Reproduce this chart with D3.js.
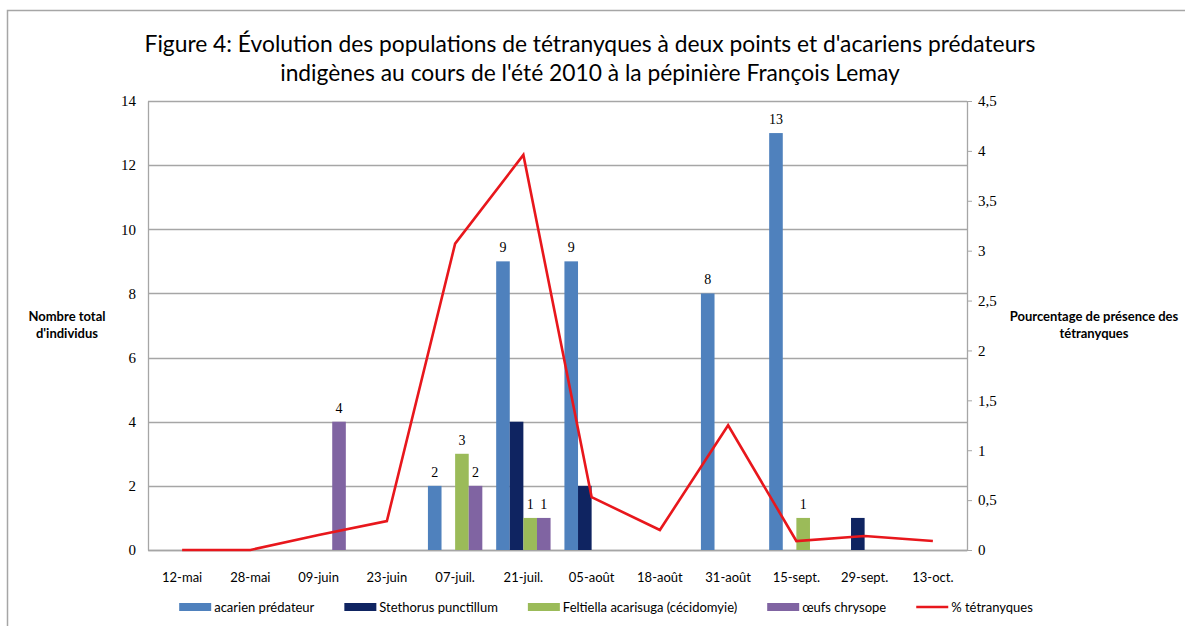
<!DOCTYPE html>
<html>
<head>
<meta charset="utf-8">
<script src="https://cdn.jsdelivr.net/npm/d3@7"></script>
<style>
  body { margin: 0; background: #fff; }
  svg { display: block; }
  .tick-num { font-family: "Liberation Serif", "DejaVu Serif", serif; font-size: 15px; fill: #000; }
  .cat { font-family: "Lato", sans-serif; font-size: 13px; fill: #000; }
  .lbl { font-family: "Liberation Serif", "DejaVu Serif", serif; font-size: 14px; fill: #000; }
  .ttl { font-family: "Lato", "Open Sans", sans-serif; font-size: 22.8px; fill: #000; }
  .axt { font-family: "Lato", sans-serif; font-size: 13px; font-weight: bold; fill: #000; }
  .leg { font-family: "Lato", sans-serif; font-size: 13px; fill: #000; }
</style>
</head>
<body>
<script>
// categories and values
var categories = ["12-mai", "28-mai", "09-juin", "23-juin", "07-juil.", "21-juil.", "05-août", "18-août", "31-août", "15-sept.", "29-sept.", "13-oct."];
var acarien    = [0, 0, 0, 0, 2, 9, 9, 0, 8, 13, 0, 0];
var stethorus  = [0, 0, 0, 0, 0, 4, 2, 0, 0, 0, 1, 0];
var feltiella  = [0, 0, 0, 0, 3, 1, 0, 0, 0, 1, 0, 0];
var chrysope   = [0, 0, 4, 0, 2, 1, 0, 0, 0, 0, 0, 0];
var tetranyques = [0, 0, 0.15, 0.29, 3.07, 3.96, 0.53, 0.2, 1.25, 0.09, 0.14, 0.09];
var leftTicks  = [0, 2, 4, 6, 8, 10, 12, 14];
var rightTicks = [0, 0.5, 1, 1.5, 2, 2.5, 3, 3.5, 4, 4.5];

var barSeries = [
  {name: "acarien prédateur", values: acarien, color: "#4f81bd", labels: true},
  {name: "Stethorus punctillum", values: stethorus, color: "#0f2461", labels: false},
  {name: "Feltiella acarisuga (cécidomyie)", values: feltiella, color: "#9bbb59", labels: true},
  {name: "œufs chrysope", values: chrysope, color: "#8064a2", labels: true}
];

var W = 1185, H = 626;
var margin = {left: 148, right: 218, top: 101, bottom: 76};
var width = W - margin.left - margin.right,
    height = H - margin.top - margin.bottom;

var svg = d3.select("body").append("svg")
    .attr("width", W)
    .attr("height", H);

// outer chart border (only top and left are inside the picture)
svg.append("rect")
    .attr("x", 7.5).attr("y", 10.5)
    .attr("width", 1400).attr("height", 1000)
    .attr("fill", "none")
    .attr("stroke", "#a6a6a6")
    .attr("stroke-width", 1.5);

var frLocale = d3.formatLocale({decimal: ",", thousands: " ", grouping: [3], currency: ["", " €"]});
var fmtRight = frLocale.format("~g");

// title
var title = svg.append("text").attr("class", "ttl").attr("text-anchor", "middle");
title.append("tspan").attr("x", 590).attr("y", 52)
    .text("Figure 4: Évolution des populations de tétranyques à deux points et d'acariens prédateurs");
title.append("tspan").attr("x", 590).attr("y", 81)
    .text("indigènes au cours de l'été 2010 à la pépinière François Lemay");

var g = svg.append("g").attr("transform", "translate(" + margin.left + "," + margin.top + ")");

// scales
var x0 = d3.scaleBand().domain(categories).range([0, width]).padding(0);
var groupW = 54.4;
var x1 = d3.scaleBand().domain(barSeries.map(function(s) { return s.name; }))
    .range([(x0.bandwidth() - groupW) / 2, (x0.bandwidth() + groupW) / 2]);
var yL = d3.scaleLinear().domain([0, 14]).range([height, 0]);
var yR = d3.scaleLinear().domain([0, 4.5]).range([height, 0]);

// gridlines
g.append("g").selectAll("line")
    .data(leftTicks)
    .enter().append("line")
    .attr("x1", 0).attr("x2", width)
    .attr("y1", function(d) { return Math.round(yL(d)) + 0.5; })
    .attr("y2", function(d) { return Math.round(yL(d)) + 0.5; })
    .attr("stroke", "#a6a6a6")
    .attr("stroke-width", 1.3);

// left axis
var yAxisL = d3.axisLeft(yL).tickValues(leftTicks).tickSize(0).tickPadding(12);
var gL = g.append("g").call(yAxisL);
gL.select(".domain").attr("stroke", "#a6a6a6").attr("stroke-width", 1.3);
gL.selectAll("text").attr("class", "tick-num").attr("font-family", null).attr("font-size", null);

// right axis
var yAxisR = d3.axisRight(yR).tickValues(rightTicks).tickSize(5).tickSizeOuter(0).tickPadding(6).tickFormat(fmtRight);
var gR = g.append("g").attr("transform", "translate(" + width + ",0)").call(yAxisR);
gR.select(".domain").attr("stroke", "#a6a6a6").attr("stroke-width", 1.3);
gR.selectAll("line").attr("stroke", "#a6a6a6");
gR.selectAll("text").attr("class", "tick-num").attr("font-family", null).attr("font-size", null);

// x axis labels
var xAxis = d3.axisBottom(x0).tickSize(0).tickPadding(23);
var gX = g.append("g").attr("transform", "translate(0," + height + ")").call(xAxis);
gX.select(".domain").attr("stroke", "#a6a6a6").attr("stroke-width", 1.3);
gX.selectAll("text").attr("class", "cat").attr("font-family", null).attr("font-size", null);

// bars
barSeries.forEach(function(s) {
  var pts = s.values.map(function(v, i) { return {cat: categories[i], v: v}; })
    .filter(function(d) { return d.v > 0; });
  g.selectAll(null)
    .data(pts)
    .enter().append("rect")
    .attr("x", function(d) { return x0(d.cat) + x1(s.name); })
    .attr("y", function(d) { return yL(d.v); })
    .attr("width", x1.bandwidth())
    .attr("height", function(d) { return height - yL(d.v); })
    .attr("fill", s.color);
  if (s.labels) {
    g.selectAll(null)
      .data(pts)
      .enter().append("text")
      .attr("class", "lbl")
      .attr("text-anchor", "middle")
      .attr("x", function(d) { return x0(d.cat) + x1(s.name) + x1.bandwidth() / 2; })
      .attr("y", function(d) { return yL(d.v) - 9; })
      .text(function(d) { return d.v; });
  }
});

// % tétranyques line
var line = d3.line()
    .x(function(d, i) { return x0(categories[i]) + x0.bandwidth() / 2; })
    .y(function(d) { return yR(d); });
g.append("path")
    .datum(tetranyques)
    .attr("d", line)
    .attr("fill", "none")
    .attr("stroke", "#e8171c")
    .attr("stroke-width", 2.6)
    .attr("stroke-linejoin", "miter");

// axis titles
var tl = svg.append("text").attr("class", "axt").attr("text-anchor", "middle");
tl.append("tspan").attr("x", 67).attr("y", 321).text("Nombre total");
tl.append("tspan").attr("x", 67).attr("y", 338).text("d'individus");
var tr = svg.append("text").attr("class", "axt").attr("text-anchor", "middle");
tr.append("tspan").attr("x", 1094).attr("y", 321).text("Pourcentage de présence des");
tr.append("tspan").attr("x", 1094).attr("y", 338).text("tétranyques");

// legend
var legItems = barSeries.map(function(s) { return {name: s.name, color: s.color, type: "bar"}; });
legItems.push({name: "% tétranyques", color: "#e8171c", type: "line"});
var leg = svg.append("g");
var lx = 0;
legItems.forEach(function(it) {
  var item = leg.append("g").attr("transform", "translate(" + lx + ",0)");
  if (it.type === "bar") {
    item.append("rect").attr("x", 0).attr("y", -9).attr("width", 32).attr("height", 8).attr("fill", it.color);
  } else {
    item.append("line").attr("x1", 0).attr("x2", 32).attr("y1", -5).attr("y2", -5)
      .attr("stroke", it.color).attr("stroke-width", 2.6);
  }
  var t = item.append("text").attr("class", "leg").attr("x", 35).attr("y", 0).text(it.name);
  lx += 35 + t.node().getComputedTextLength() + 30;
});
var legW = lx - 30;
leg.attr("transform", "translate(" + (606 - legW / 2) + ",612)");
</script>
</body>
</html>
